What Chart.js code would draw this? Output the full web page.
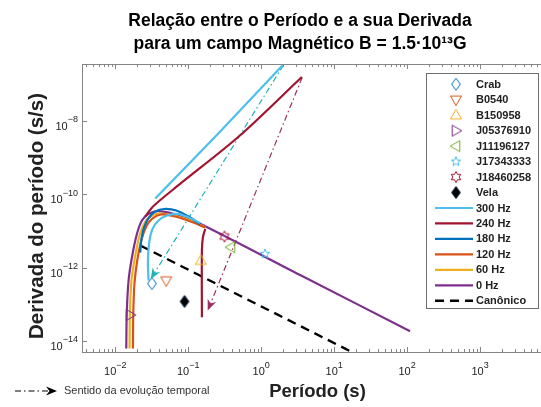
<!DOCTYPE html>
<html>
<head>
<meta charset="utf-8">
<script src="https://cdn.jsdelivr.net/npm/chart.js@4.4.0/dist/chart.umd.min.js"></script>
<style>
  html, body { margin: 0; padding: 0; background: #fff; overflow: hidden; }
</style>
</head>
<body>
<canvas id="chart" width="600" height="407"></canvas>
<script>
// --- data (period in s, derivative in s/s) ---
const pulsarNames = ['Crab', 'B0540', 'B150958', 'J05376910', 'J11196127', 'J17343333', 'J18460258', 'Vela'];
const pulsarPeriod = [0.0318, 0.0499, 0.149, 0.0160, 0.385, 1.13, 0.314, 0.089];
const pulsarPdot = [3.66e-13, 4.4e-13, 1.55e-12, 5.1e-14, 3.57e-12, 2.36e-12, 7.0e-12, 1.19e-13];

const freqLabels = ['300 Hz', '240 Hz', '180 Hz', '120 Hz', '60 Hz', '0 Hz'];

const hz300LowPeriod = [0.0286, 0.02805, 0.02922, 0.03243, 0.0392, 0.05108, 0.07003, 0.1, 0.1461];
const hz300LowPdot = [4.43e-13, 1.37e-12, 4.8e-12, 1.13e-11, 1.91e-11, 2.61e-11, 2.9e-11, 2.35e-11, 1.63e-11];
const hz300HighPeriod = [0.03531, 0.2744, 2.132];
const hz300HighPdot = [7.59e-11, 5.08e-9, 3.83e-7];

const hz240UpPeriod = [0.02576, 0.03346, 0.0736, 0.4887, 3.61];
const hz240UpPdot = [2.45e-11, 4.74e-11, 1.75e-10, 3.64e-9, 1.55e-7];
const hz240DownPeriod = [0.171, 0.159, 0.154, 0.154];
const hz240DownPdot = [1.12e-11, 6.7e-12, 2.9e-12, 4.42e-14];

const hz180Period = [0.02201, 0.0227, 0.02458, 0.02832, 0.03531, 0.04691, 0.0685, 0.1065, 0.1461];
const hz180Pdot = [2.56e-12, 5.44e-12, 1.16e-11, 2.16e-11, 3.36e-11, 3.93e-11, 3.57e-11, 2.3e-11, 1.49e-11];

const hz120Period = [0.01748, 0.01765, 0.01838, 0.02001, 0.02271, 0.02659, 0.03212, 0.04266, 0.0664, 0.1171, 0.171];
const hz120Pdot = [6.2e-15, 5.58e-14, 3.9e-13, 1.55e-12, 5.44e-12, 1.31e-11, 2.16e-11, 2.78e-11, 2.45e-11, 1.68e-11, 1.23e-11];

const hz60Period = [0.0157, 0.01585, 0.01667, 0.0185, 0.02132, 0.02495, 0.03016, 0.04005, 0.0643, 0.1171, 0.171];
const hz60Pdot = [6.2e-15, 5.58e-14, 4.43e-13, 1.76e-12, 7.0e-12, 1.58e-11, 2.45e-11, 2.96e-11, 2.61e-11, 1.79e-11, 1.23e-11];

const hz0Period = [0.01415, 0.01437, 0.01522, 0.01694, 0.01983, 0.02321, 0.02859, 0.0392, 0.0629, 0.1182, 3.42, 109.9];
const hz0Pdot = [6.2e-15, 5.58e-14, 4.43e-13, 1.91e-12, 8.28e-12, 1.91e-11, 2.9e-11, 3.42e-11, 2.9e-11, 1.91e-11, 6.25e-13, 1.84e-14];

const canonPeriod = [0.022, 22.7];
const canonPdot = [3.98e-12, 3.85e-15];

const arrow300Period = [2.021, 0.03064];
const arrow300Pdot = [3.29e-7, 4.86e-13];
const arrow240Period = [3.644, 0.185];
const arrow240Pdot = [1.5e-7, 6.73e-14];

const xTickValues = [1e-2, 1e-1, 1e0, 1e1, 1e2, 1e3, 1e4];
const yTickValues = [1e-14, 1e-12, 1e-10, 1e-8];

// --- styles ---
const FONT = "'Liberation Sans', Arial, sans-serif";
const axisColor = '#858585';
const textColor = '#222222';
const markerShapes = ['diamond', 'down', 'up', 'right', 'left', 'pentagram', 'hexagram', 'diamond'];
const markerColors = ['#0072BD', '#D95319', '#EDB120', '#7E2F8E', '#77AC30', '#4DBEEE', '#A2142F', '#0B2447'];
const markerFills = [null, null, null, null, null, null, null, '#000000'];
const freqColors = ['#4DBEEE', '#A2142F', '#0072BD', '#D95319', '#EDB120', '#7E2F8E'];

function makeMarker(shape, stroke, fill) {
    const s = 16, c = s / 2;
    const cv = document.createElement('canvas');
    cv.width = s; cv.height = s;
    const g = cv.getContext('2d');
    const poly = pts => {
        g.beginPath();
        pts.forEach((p, i) => i ? g.lineTo(c + p[0], c + p[1]) : g.moveTo(c + p[0], c + p[1]));
        g.closePath();
    };
    const star = (n, ro, ri) => {
        const pts = [];
        for (let i = 0; i < 2 * n; i++) {
            const r = i % 2 ? ri : ro;
            const a = -Math.PI / 2 + i * Math.PI / n;
            pts.push([r * Math.cos(a), r * Math.sin(a)]);
        }
        poly(pts);
    };
    if (shape === 'diamond') poly([[0, -6], [4.4, 0], [0, 6], [-4.4, 0]]);
    if (shape === 'down') poly([[-5.5, -3.8], [5.5, -3.8], [0, 5.8]]);
    if (shape === 'up') poly([[0, -5.8], [5.5, 3.8], [-5.5, 3.8]]);
    if (shape === 'right') poly([[-3.8, -5.5], [5.8, 0], [-3.8, 5.5]]);
    if (shape === 'left') poly([[3.8, -5.5], [-5.8, 0], [3.8, 5.5]]);
    if (shape === 'pentagram') star(5, 5, 2.1);
    if (shape === 'hexagram') star(6, 5.5, 3.1);
    if (fill) { g.fillStyle = fill; g.fill(); }
    g.lineWidth = 1;
    g.strokeStyle = stroke;
    g.stroke();
    return cv;
}

const pts = (P, D) => P.map((p, i) => ({ x: p, y: D[i] }));
const gap = (P, D, P2, D2) => pts(P, D).concat([{ x: P2[0], y: null }], pts(P2, D2));

const datasets = [];
pulsarNames.forEach((name, i) => {
    const img = makeMarker(markerShapes[i], markerColors[i], markerFills[i]);
    datasets.push({
        label: name,
        data: [{ x: pulsarPeriod[i], y: pulsarPdot[i] }],
        pointStyle: img,
        markerImg: img,
        pointRadius: 6,
        showLine: false
    });
});

const freqData = [
    gap(hz300LowPeriod, hz300LowPdot, hz300HighPeriod, hz300HighPdot),
    gap(hz240UpPeriod, hz240UpPdot, hz240DownPeriod, hz240DownPdot),
    pts(hz180Period, hz180Pdot),
    pts(hz120Period, hz120Pdot),
    pts(hz60Period, hz60Pdot),
    pts(hz0Period, hz0Pdot)
];
freqLabels.forEach((name, i) => {
    datasets.push({
        label: name,
        data: freqData[i],
        showLine: true,
        borderColor: freqColors[i],
        borderWidth: 2.2,
        pointRadius: 0,
        tension: 0.3,
        spanGaps: false
    });
});

datasets.push({
    label: 'Canônico',
    data: pts(canonPeriod, canonPdot),
    showLine: true,
    borderColor: '#000000',
    borderWidth: 2.4,
    borderDash: [9, 6],
    pointRadius: 0
});

datasets.push({
    data: pts(arrow300Period, arrow300Pdot),
    showLine: true,
    borderColor: '#1FB3B3',
    borderWidth: 1.2,
    borderDash: [6, 3, 1.5, 3],
    pointRadius: 0,
    arrowHead: true,
    noLegend: true
});
datasets.push({
    data: pts(arrow240Period, arrow240Pdot),
    showLine: true,
    borderColor: '#9B2F5E',
    borderWidth: 1.2,
    borderDash: [6, 3, 1.5, 3],
    pointRadius: 0,
    arrowHead: true,
    noLegend: true
});

function drawArrowHead(ctx, x1, y1, x2, y2, color) {
    const ang = Math.atan2(y2 - y1, x2 - x1);
    ctx.save();
    ctx.translate(x2, y2);
    ctx.rotate(ang);
    ctx.beginPath();
    ctx.moveTo(0, 0);
    ctx.lineTo(-11, -4.5);
    ctx.lineTo(-7.5, 0);
    ctx.lineTo(-11, 4.5);
    ctx.closePath();
    ctx.fillStyle = color;
    ctx.fill();
    ctx.restore();
}

function drawPower(ctx, value, x, yBase, align) {
    const base = '10';
    const e = String(Math.round(Math.log10(value))).replace('-', '\u2212');
    ctx.font = '11px ' + FONT;
    const wb = ctx.measureText(base).width;
    ctx.font = '9px ' + FONT;
    const we = ctx.measureText(e).width;
    const left = align === 'center' ? x - (wb + we) / 2 : x - (wb + we);
    ctx.textAlign = 'left';
    ctx.textBaseline = 'alphabetic';
    ctx.fillStyle = textColor;
    ctx.font = '11px ' + FONT;
    ctx.fillText(base, left, yBase);
    ctx.font = '9px ' + FONT;
    ctx.fillText(e, left + wb, yBase - 7.5);
}

const decorations = {
    id: 'decorations',
    afterDatasetsDraw(chart) {
        const { ctx, chartArea: a, scales: { x, y } } = chart;
        ctx.save();

        // arrow heads on the dash-dot guides
        chart.data.datasets.forEach((ds, i) => {
            if (!ds.arrowHead) return;
            const pts = chart.getDatasetMeta(i).data;
            const p1 = pts[pts.length - 2], p2 = pts[pts.length - 1];
            drawArrowHead(ctx, p1.x, p1.y, p2.x, p2.y, ds.borderColor);
        });

        // box and inward ticks
        ctx.strokeStyle = axisColor;
        ctx.lineWidth = 1;
        ctx.strokeRect(Math.round(a.left) + 0.5, Math.round(a.top) + 0.5,
            Math.round(a.right - a.left), Math.round(a.bottom - a.top));
        ctx.beginPath();
        const d0 = Math.floor(Math.log10(x.min)), d1 = Math.ceil(Math.log10(x.max));
        for (let d = d0; d <= d1; d++) {
            for (let k = 1; k <= 9; k++) {
                const v = k * Math.pow(10, d);
                if (v < x.min || v > x.max) continue;
                const px = Math.round(x.getPixelForValue(v)) + 0.5;
                const len = k === 1 ? 5 : 3;
                ctx.moveTo(px, a.bottom); ctx.lineTo(px, a.bottom - len);
                ctx.moveTo(px, a.top); ctx.lineTo(px, a.top + len);
            }
        }
        yTickValues.forEach(v => {
            const py = Math.round(y.getPixelForValue(v)) + 0.5;
            ctx.moveTo(a.left, py); ctx.lineTo(a.left + 5, py);
            ctx.moveTo(a.right, py); ctx.lineTo(a.right - 5, py);
        });
        ctx.stroke();

        // tick labels
        xTickValues.forEach(v => drawPower(ctx, v, x.getPixelForValue(v), a.bottom + 23, 'center'));
        yTickValues.forEach(v => drawPower(ctx, v, a.left - 4, y.getPixelForValue(v) + 9, 'right'));

        // y axis title
        ctx.save();
        ctx.translate(37, 216);
        ctx.rotate(-Math.PI / 2);
        ctx.font = 'bold 20.5px ' + FONT;
        ctx.fillStyle = textColor;
        ctx.textAlign = 'center';
        ctx.textBaseline = 'middle';
        ctx.fillText('Derivada do período (s/s)', 0, 0);
        ctx.restore();

        // legend
        const L = { left: 426, top: 73, right: 538, bottom: 308, row0: 84.3, rowGap: 15.46, markX: 456, x0: 435, x1: 473, textX: 476 };
        ctx.fillStyle = '#ffffff';
        ctx.fillRect(L.left, L.top, L.right - L.left, L.bottom - L.top);
        ctx.strokeStyle = '#6f6f6f';
        ctx.strokeRect(L.left + 0.5, L.top + 0.5, L.right - L.left, L.bottom - L.top);
        let row = 0;
        chart.data.datasets.forEach(ds => {
            if (ds.noLegend) return;
            const ry = L.row0 + row * L.rowGap;
            if (ds.markerImg) {
                const im = ds.markerImg;
                ctx.drawImage(im, L.markX - im.width / 2, ry - im.height / 2);
            } else {
                ctx.save();
                ctx.setLineDash(ds.borderDash || []);
                ctx.strokeStyle = ds.borderColor;
                ctx.lineWidth = ds.borderWidth;
                ctx.beginPath();
                ctx.moveTo(L.x0, ry);
                ctx.lineTo(L.x1, ry);
                ctx.stroke();
                ctx.restore();
            }
            ctx.font = 'bold 11px ' + FONT;
            ctx.fillStyle = textColor;
            ctx.textAlign = 'left';
            ctx.textBaseline = 'middle';
            ctx.fillText(ds.label, L.textX, ry + 0.5);
            row++;
        });

        // note on the dash-dot guides
        ctx.save();
        ctx.strokeStyle = '#000000';
        ctx.lineWidth = 1.1;
        ctx.setLineDash([6, 3, 1.5, 3]);
        ctx.beginPath();
        ctx.moveTo(15, 391);
        ctx.lineTo(50, 391);
        ctx.stroke();
        ctx.restore();
        drawArrowHead(ctx, 40, 391, 57, 391, '#000000');
        ctx.font = '11px ' + FONT;
        ctx.fillStyle = '#333333';
        ctx.textAlign = 'left';
        ctx.textBaseline = 'middle';
        ctx.fillText('Sentido da evolução temporal', 64, 391);

        ctx.restore();
    }
};

new Chart(document.getElementById('chart'), {
    type: 'scatter',
    data: { datasets },
    options: {
        responsive: false,
        animation: false,
        events: [],
        layout: { padding: 0 },
        plugins: {
            legend: { display: false },
            tooltip: { enabled: false },
            title: {
                display: true,
                text: ['Relação entre o Período e a sua Derivada', 'para um campo Magnético B = 1.5·10¹³G'],
                color: '#000000',
                font: { family: FONT, size: 17.5, weight: 'bold', lineHeight: '23.5px' },
                padding: { top: 9, bottom: 8 }
            }
        },
        scales: {
            x: {
                type: 'logarithmic',
                min: 0.0035,
                max: 1e4,
                grid: { display: false },
                border: { display: false },
                ticks: { display: false },
                afterFit: s => { s.height = 55; },
                title: {
                    display: true,
                    text: 'Período (s)',
                    color: textColor,
                    font: { family: FONT, size: 18.5, weight: 'bold' },
                    padding: { top: 0, bottom: 4 }
                }
            },
            y: {
                type: 'logarithmic',
                min: 5e-15,
                max: 3.5e-7,
                grid: { display: false },
                border: { display: false },
                ticks: { display: false },
                afterFit: s => { s.width = 82; }
            },
            yRight: {
                type: 'logarithmic',
                position: 'right',
                min: 5e-15,
                max: 3.5e-7,
                grid: { display: false },
                border: { display: false },
                ticks: { display: false },
                afterFit: s => { s.width = 47; }
            }
        }
    },
    plugins: [decorations]
});
</script>
</body>
</html>
